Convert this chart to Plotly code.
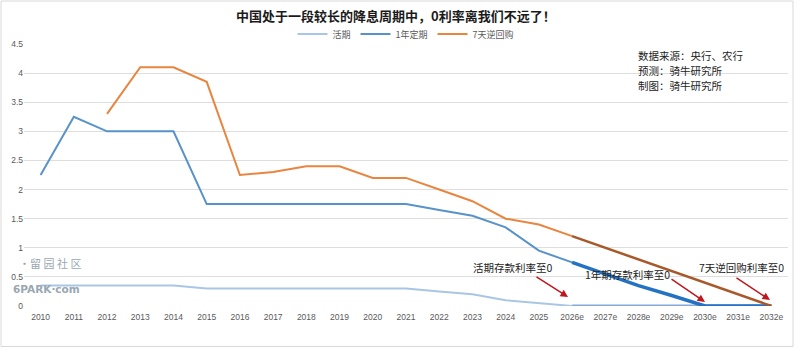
import plotly.graph_objects as go

categories = [str(y) for y in range(2010, 2026)] + [f"{y}e" for y in range(2026, 2033)]

# historical / base series (2010 .. 2026e)
demand = [0.35, 0.35, 0.35, 0.35, 0.35, 0.3, 0.3, 0.3, 0.3, 0.3, 0.3, 0.3, 0.25, 0.2, 0.1, 0.05, 0.0,
          None, None, None, None, None, None]
one_year = [2.25, 3.25, 3.0, 3.0, 3.0, 1.75, 1.75, 1.75, 1.75, 1.75, 1.75, 1.75, 1.65, 1.55, 1.35, 0.95, 0.75,
            None, None, None, None, None, None]
repo7 = [None, None, 3.3, 4.1, 4.1, 3.85, 2.25, 2.3, 2.4, 2.4, 2.2, 2.2, 2.0, 1.8, 1.5, 1.4, 1.2,
         None, None, None, None, None, None]

# forecast series (2026e .. 2032e)
demand_fc = [None] * 16 + [0.0, 0.0, 0.0, 0.0, 0.0, 0.0, 0.0]
one_year_fc = [None] * 16 + [0.75, 0.55, 0.35, 0.18, 0.0, 0.0, 0.0]
repo7_fc = [None] * 16 + [1.2, 1.0, 0.8, 0.6, 0.4, 0.2, 0.0]

yticks = [0, 0.5, 1, 1.5, 2, 2.5, 3, 3.5, 4, 4.5]
ytick_text = ["0", "0.5", "1", "1.5", "2", "2.5", "3", "3.5", "4", "4.5"]

W, H = 800, 348
L, R, T, B = 24, 12, 44, 42
PW, PH = W - L - R, H - T - B


def px(x):
    return (x - L) / PW


def py(y):
    return (H - B - y) / PH


fig = go.Figure()
fig.add_trace(go.Scatter(x=categories, y=demand, mode="lines", name="活期",
                         line=dict(color="#a9c6e4", width=2)))
fig.add_trace(go.Scatter(x=categories, y=one_year, mode="lines", name="1年定期",
                         line=dict(color="#5792c9", width=2)))
fig.add_trace(go.Scatter(x=categories, y=repo7, mode="lines", name="7天逆回购",
                         line=dict(color="#e8853f", width=2)))
fig.add_trace(go.Scatter(x=categories, y=demand_fc, mode="lines", showlegend=False,
                         line=dict(color="#84a9da", width=3)))
fig.add_trace(go.Scatter(x=categories, y=one_year_fc, mode="lines", showlegend=False,
                         line=dict(color="#2472c4", width=3.5)))
fig.add_trace(go.Scatter(x=categories, y=repo7_fc, mode="lines", showlegend=False,
                         line=dict(color="#a9582a", width=2.5)))

font_cjk = "Noto Sans CJK SC, Microsoft YaHei, sans-serif"

annotations = []
# title
annotations.append(dict(text="<b>中国处于一段较长的降息周期中，0利率离我们不远了！</b>",
                        xref="paper", yref="paper", x=px(396), y=py(15),
                        xanchor="center", yanchor="middle", showarrow=False,
                        font=dict(size=13, color="#1a1a1a", family=font_cjk)))
# source block
for i, t in enumerate(["数据来源：央行、农行", "预测：骑牛研究所", "制图：骑牛研究所"]):
    annotations.append(dict(text=t, xref="paper", yref="paper", x=px(636), y=py(55 + 15 * i),
                            xanchor="left", yanchor="middle", showarrow=False,
                            font=dict(size=10.5, color="#222222", family=font_cjk)))
# labels
for t, cx, cy in [("活期存款利率至0", 513, 267), ("1年期存款利率至0", 627, 274), ("7天逆回购利率至0", 741, 267)]:
    annotations.append(dict(text=t, xref="paper", yref="paper", x=px(cx), y=py(cy),
                            xanchor="center", yanchor="middle", showarrow=False,
                            font=dict(size=10.5, color="#222222", family=font_cjk)))
# arrows
for hx, hy, tx, ty in [(568, 297, 535, 276), (705, 302, 670, 278), (770, 300, 735, 277)]:
    annotations.append(dict(text="", xref="paper", yref="paper", x=px(hx), y=py(hy),
                            ax=tx - hx, ay=ty - hy, showarrow=True, arrowhead=2,
                            arrowsize=1, arrowwidth=1.5, arrowcolor="#c0161e", standoff=0))
# watermark
annotations.append(dict(text="·留 园 社 区", xref="paper", yref="paper", x=px(50), y=py(263),
                        xanchor="center", yanchor="middle", showarrow=False,
                        font=dict(size=11, color="#9aa7b3", family=font_cjk)))
annotations.append(dict(text="<b>6PARK·com</b>", xref="paper", yref="paper", x=px(46), y=py(289),
                        xanchor="center", yanchor="middle", showarrow=False,
                        font=dict(size=10.5, color="#9aa7b3", family="DejaVu Sans")))

fig.update_layout(
    width=W, height=H,
    margin=dict(l=L, r=R, t=T, b=B, autoexpand=False),
    paper_bgcolor="white", plot_bgcolor="white",
    showlegend=True,
    legend=dict(orientation="h", x=0.5, xanchor="center", y=py(34), yanchor="middle",
                font=dict(size=9, color="#595959", family=font_cjk),
                itemwidth=30, tracegroupgap=0, bgcolor="rgba(0,0,0,0)"),
    xaxis=dict(type="category", categoryorder="array", categoryarray=categories,
               showgrid=False, showline=False, zeroline=False, ticks="",
               ticklabelstandoff=4,
               tickfont=dict(size=8.5, color="#595959", family="Liberation Sans"),
               range=[-0.5, len(categories) - 0.5], fixedrange=True),
    yaxis=dict(range=[0, 4.5], tickvals=yticks, ticktext=ytick_text,
               showgrid=True, gridcolor="#dedede", gridwidth=1, zeroline=False,
               showline=False, ticks="",
               tickfont=dict(size=8.5, color="#595959", family="Liberation Sans")),
    annotations=annotations,
    shapes=[dict(type="rect", xref="paper", yref="paper",
                 x0=px(1), x1=px(793), y0=py(346.5), y1=py(1),
                 line=dict(color="#d9d9d9", width=1), fillcolor="rgba(0,0,0,0)")],
)

fig.write_html("out.html")
